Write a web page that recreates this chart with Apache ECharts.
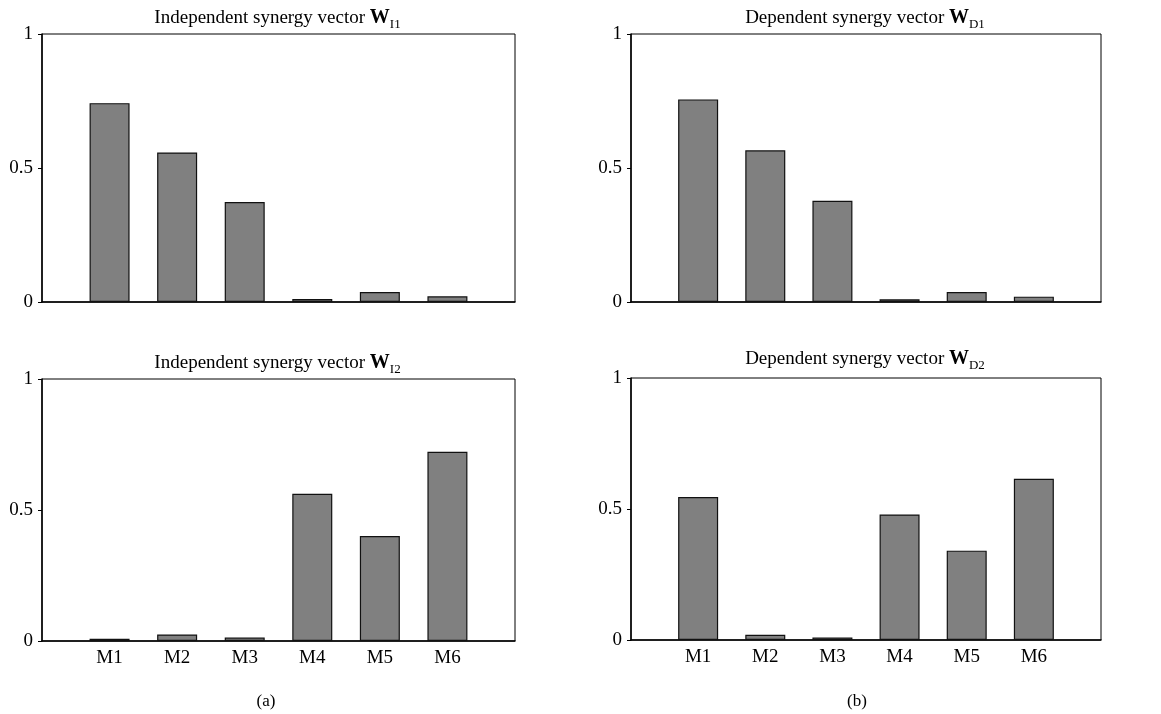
<!DOCTYPE html>
<html><head><meta charset="utf-8">
<script src="https://cdn.jsdelivr.net/npm/echarts@6/dist/echarts.min.js"></script>
<style>html,body{margin:0;padding:0;background:#fff}#c{width:1161px;height:714px}</style>
</head><body><div id="c"></div>
<script>
const categories = ['M1','M2','M3','M4','M5','M6'];
const wI1 = [0.742, 0.558, 0.373, 0.011, 0.037, 0.021];
const wD1 = [0.756, 0.566, 0.378, 0.010, 0.037, 0.020];
const wI2 = [0.009, 0.025, 0.013, 0.562, 0.401, 0.722];
const wD2 = [0.546, 0.020, 0.010, 0.479, 0.341, 0.615];
const yTicks = [0, 0.5, 1];
const panelTitles = [
  ['Independent synergy vector ', 'W', 'I1'],
  ['Dependent synergy vector ', 'W', 'D1'],
  ['Independent synergy vector ', 'W', 'I2'],
  ['Dependent synergy vector ', 'W', 'D2']
];
const panelLabels = ['(a)', '(b)'];

const FONT = '"Liberation Serif", "DejaVu Serif", serif';
const axisCats = [''].concat(categories, ['']);
const grids = [
  {left: 42, top: 34, width: 473, height: 268},
  {left: 631, top: 34, width: 470, height: 268},
  {left: 42, top: 379, width: 473, height: 262},
  {left: 631, top: 378, width: 470, height: 262}
];
const seriesData = [wI1, wD1, wI2, wD2];
const titleY = [0, 0, 345, 341];

const option = {
  animation: false,
  backgroundColor: '#fff',
  title: panelTitles.map((t, i) => ({
    text: '{a|' + t[0] + '}{b|' + t[1] + '}{s|' + t[2] + '}',
    left: grids[i].left + grids[i].width / 2 - 6,
    top: titleY[i],
    textAlign: 'center',
    textStyle: {
      fontWeight: 'normal',
      rich: {
        a: {fontFamily: FONT, fontSize: 19, fontWeight: 'normal', color: '#000', lineHeight: 26, verticalAlign: 'middle'},
        b: {fontFamily: FONT, fontSize: 20, fontWeight: 'bold', color: '#000', lineHeight: 26, verticalAlign: 'middle'},
        s: {fontFamily: FONT, fontSize: 13, fontWeight: 'normal', color: '#000', lineHeight: 12, verticalAlign: 'bottom'}
      }
    }
  })).concat(panelLabels.map((t, i) => ({
    text: t,
    left: i === 0 ? 261 : 852,
    top: 688,
    textAlign: 'center',
    textStyle: {fontFamily: FONT, fontSize: 17, fontWeight: 'normal', color: '#000'}
  }))),
  grid: grids.map(g => Object.assign({show: true, borderColor: '#000', borderWidth: 1, backgroundColor: 'transparent'}, g)),
  xAxis: grids.map((g, i) => ({
    type: 'category',
    gridIndex: i,
    data: axisCats,
    boundaryGap: false,
    axisLine: {lineStyle: {color: '#000', width: 1.5}},
    axisTick: {show: false},
    axisLabel: {show: i >= 2, fontFamily: FONT, fontSize: 19, color: '#000', margin: 8, interval: 0},
    splitLine: {show: false}
  })),
  yAxis: grids.map((g, i) => ({
    type: 'value',
    gridIndex: i,
    min: yTicks[0],
    max: yTicks[yTicks.length - 1],
    interval: 0.5,
    axisLine: {show: true, lineStyle: {color: '#000', width: 1.5}},
    axisTick: {show: true, length: 4, lineStyle: {color: '#000'}},
    axisLabel: {fontFamily: FONT, fontSize: 19, color: '#000', margin: 9,
      formatter: v => String(v)},
    splitLine: {show: false}
  })),
  series: seriesData.map((d, i) => ({
    type: 'bar',
    xAxisIndex: i,
    yAxisIndex: i,
    data: [null].concat(d, [null]),
    barWidth: 40,
    itemStyle: {color: '#808080', borderColor: '#111', borderWidth: 1.2}
  }))
};
const chart = echarts.init(document.getElementById('c'), null, {renderer: 'canvas'});
chart.setOption(option);
</script>
</body></html>
